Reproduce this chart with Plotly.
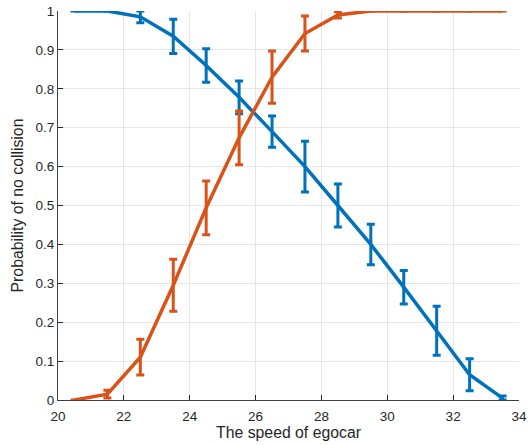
import plotly.graph_objects as go

speeds = [20.5, 21.5, 22.5, 23.5, 24.5, 25.5, 26.5, 27.5, 28.5, 29.5, 30.5, 31.5, 32.5, 33.5]
blue_vals = [1.0, 1.0, 0.985, 0.935, 0.86, 0.778, 0.69, 0.60, 0.50, 0.40, 0.29, 0.178, 0.065, 0.005]
blue_err = [0.0, 0.0, 0.015, 0.044, 0.043, 0.042, 0.04, 0.065, 0.055, 0.052, 0.043, 0.063, 0.041, 0.005]
orange_vals = [0.0, 0.015, 0.11, 0.295, 0.494, 0.674, 0.83, 0.942, 0.99, 1.0, 1.0, 1.0, 1.0, 1.0]
orange_err = [0.0, 0.01, 0.046, 0.067, 0.069, 0.069, 0.067, 0.045, 0.008, 0.0, 0.0, 0.0, 0.0, 0.0]
x_ticks = [20, 22, 24, 26, 28, 30, 32, 34]
y_ticks = [0, 0.1, 0.2, 0.3, 0.4, 0.5, 0.6, 0.7, 0.8, 0.9, 1]
y_ticklabels = ["0", "0.1", "0.2", "0.3", "0.4", "0.5", "0.6", "0.7", "0.8", "0.9", "1"]

BLUE = "#0072BD"
ORANGE = "#D95319"
FONT = "Liberation Sans, Arial, sans-serif"
TXT = "#262626"

fig = go.Figure()
fig.add_trace(go.Scatter(
    x=speeds, y=blue_vals, mode="lines",
    line=dict(color=BLUE, width=3.5),
    error_y=dict(type="data", array=blue_err, visible=True, color=BLUE, thickness=3, width=4),
    cliponaxis=False, showlegend=False,
))
fig.add_trace(go.Scatter(
    x=speeds, y=orange_vals, mode="lines",
    line=dict(color=ORANGE, width=3.5),
    error_y=dict(type="data", array=orange_err, visible=True, color=ORANGE, thickness=3, width=4),
    cliponaxis=False, showlegend=False,
))

fig.update_layout(
    width=531, height=445,
    margin=dict(l=58, r=4, t=11, b=45),
    paper_bgcolor="white", plot_bgcolor="white",
    font=dict(family=FONT, size=13.5, color=TXT),
    xaxis=dict(
        range=[20, 34], tickvals=x_ticks, ticks="inside", ticklen=5, tickcolor=TXT,
        showgrid=True, gridcolor="#e6e6e6", gridwidth=1, zeroline=False,
        showline=True, linecolor="#404040", linewidth=1, mirror=False,
        ticklabeloverflow="allow", ticklabelstandoff=4,
        title=dict(text="The speed of egocar", font=dict(size=15.8, family=FONT, color=TXT), standoff=1),
        tickfont=dict(size=13.5, family=FONT, color=TXT),
    ),
    yaxis=dict(
        range=[0, 1], tickvals=y_ticks, ticktext=y_ticklabels, ticks="inside", ticklen=5, tickcolor=TXT,
        showgrid=True, gridcolor="#e6e6e6", gridwidth=1, zeroline=False,
        showline=True, linecolor="#404040", linewidth=1, mirror=False,
        title=dict(text="Probability of no collision", font=dict(size=15.8, family=FONT, color=TXT), standoff=7),
        tickfont=dict(size=13.5, family=FONT, color=TXT),
    ),
)

fig.write_html(
    "out.html",
    config={"displayModeBar": False},
    post_script="document.body.style.margin='0';document.body.style.overflow='hidden';",
)
